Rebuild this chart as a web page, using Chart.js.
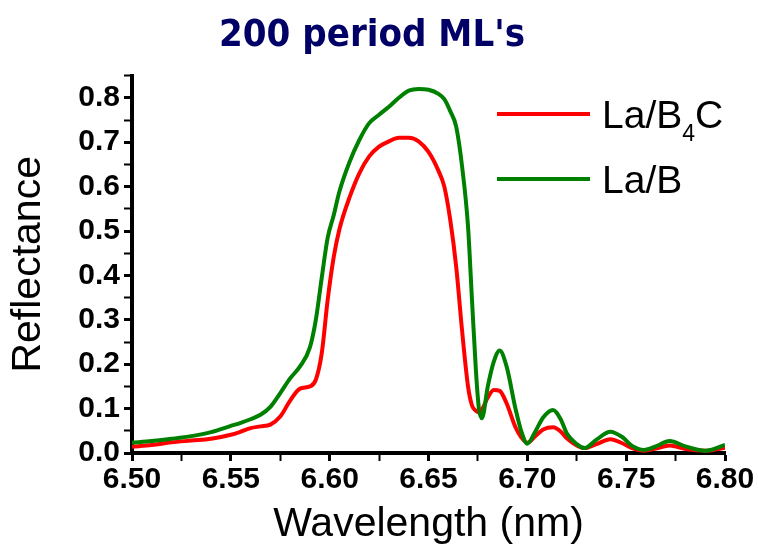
<!DOCTYPE html>
<html>
<head>
<meta charset="utf-8">
<script src="https://cdn.jsdelivr.net/npm/chart.js@4.4.1/dist/chart.umd.min.js"></script>
<style>
  html, body { margin: 0; padding: 0; background: #fff; }
</style>
</head>
<body>
<canvas id="chart" width="758" height="552"></canvas>
<script>
// wavelength grid (nm)
const wavelength = [
  6.500, 6.510, 6.520, 6.530, 6.540, 6.550, 6.555, 6.560, 6.565, 6.570,
  6.575, 6.580, 6.585, 6.590, 6.593, 6.596, 6.599, 6.602, 6.605, 6.610,
  6.615, 6.620, 6.625, 6.630, 6.635, 6.640, 6.645, 6.650, 6.655, 6.658,
  6.661, 6.664, 6.667, 6.670, 6.672, 6.674, 6.6755, 6.677, 6.680, 6.683,
  6.686, 6.6895, 6.694, 6.697, 6.700, 6.704, 6.708, 6.713, 6.717, 6.720,
  6.725, 6.729, 6.735, 6.742, 6.748, 6.753, 6.759, 6.765, 6.772, 6.780,
  6.790, 6.800
];
const laB4C = [
  0.014, 0.018, 0.024, 0.028, 0.032, 0.041, 0.048, 0.056, 0.060, 0.064,
  0.082, 0.118, 0.145, 0.150, 0.165, 0.225, 0.345, 0.440, 0.505, 0.575,
  0.630, 0.668, 0.690, 0.702, 0.710, 0.710, 0.702, 0.678, 0.636, 0.600,
  0.525, 0.420, 0.275, 0.150, 0.107, 0.095, 0.092, 0.098, 0.125, 0.142,
  0.140, 0.112, 0.058, 0.035, 0.023, 0.038, 0.053, 0.058, 0.048, 0.033,
  0.017, 0.011, 0.020, 0.031, 0.022, 0.011, 0.005, 0.010, 0.017, 0.009,
  0.005, 0.012
];
const laB = [
  0.023, 0.027, 0.032, 0.038, 0.047, 0.061, 0.068, 0.076, 0.086, 0.104,
  0.135, 0.168, 0.195, 0.238, 0.300, 0.395, 0.485, 0.535, 0.590, 0.655,
  0.705, 0.743, 0.762, 0.780, 0.800, 0.816, 0.820, 0.818, 0.809, 0.797,
  0.770, 0.735, 0.645, 0.510, 0.345, 0.185, 0.100, 0.078, 0.150, 0.205,
  0.231, 0.195, 0.100, 0.048, 0.021, 0.048, 0.080, 0.097, 0.075, 0.044,
  0.020, 0.011, 0.030, 0.048, 0.036, 0.016, 0.007, 0.015, 0.027, 0.015,
  0.005, 0.018
];
const seriesNames = ['La/B4C', 'La/B'];
const seriesColors = ['#ff0000', '#008000'];

const sansFont = "'Liberation Sans', Arial, sans-serif";

// legend drawn inside the plot, with a real subscript for B4C
const insideLegend = {
  id: 'insideLegend',
  afterDraw(chart) {
    const ctx = chart.ctx;
    ctx.save();
    const rows = [
      { y: 114, parts: [['La/B', 39, 0], ['4', 23, 13], ['C', 39, 0]] },
      { y: 179, parts: [['La/B', 39, 0]] }
    ];
    rows.forEach((row, i) => {
      ctx.strokeStyle = seriesColors[i];
      ctx.lineWidth = 4;
      ctx.beginPath();
      ctx.moveTo(497, row.y);
      ctx.lineTo(590, row.y);
      ctx.stroke();
      let x = 602;
      ctx.fillStyle = '#000';
      ctx.textBaseline = 'alphabetic';
      ctx.textAlign = 'left';
      row.parts.forEach(p => {
        ctx.font = p[1] + 'px ' + sansFont;
        ctx.fillText(p[0], x, row.y + 14 + p[2]);
        x += ctx.measureText(p[0]).width;
      });
    });
    ctx.restore();
  }
};

const ctx = document.getElementById('chart');
new Chart(ctx, {
  type: 'line',
  data: {
    datasets: [
      {
        label: seriesNames[0],
        data: wavelength.map((x, i) => ({ x: x, y: laB4C[i] })),
        borderColor: seriesColors[0],
        borderWidth: 4,
        pointRadius: 0,
        cubicInterpolationMode: 'monotone',
        order: 1
      },
      {
        label: seriesNames[1],
        data: wavelength.map((x, i) => ({ x: x, y: laB[i] })),
        borderColor: seriesColors[1],
        borderWidth: 4,
        pointRadius: 0,
        cubicInterpolationMode: 'monotone',
        order: 0
      }
    ]
  },
  options: {
    responsive: false,
    animation: false,
    layout: { padding: { top: 13, right: 14, bottom: 0, left: 0 } },
    plugins: {
      legend: { display: false },
      tooltip: { enabled: false },
      title: {
        display: true,
        text: "200 period ML's",
        color: '#000066',
        font: { family: "'DejaVu Sans Condensed', 'DejaVu Sans', sans-serif", size: 38, weight: 'bold' },
        padding: { top: 0, bottom: 17 }
      }
    },
    scales: {
      x: {
        type: 'linear',
        min: 6.5,
        max: 6.8,
        afterFit: (s) => { s.height = 99; s.paddingRight = 33; },
        ticks: {
          stepSize: 0.025,
          autoSkip: false,
          maxRotation: 0,
          padding: 1,
          color: '#000',
          font: { family: sansFont, size: 30, weight: 'bold' },
          callback: (v) => {
            const k = Math.round(v * 1000);
            return k % 50 === 0 ? (k / 1000).toFixed(2) : '';
          }
        },
        grid: {
          drawOnChartArea: false,
          tickLength: 8,
          tickColor: '#000',
          tickWidth: (c) => (Math.round(c.tick.value * 1000) % 50 === 0 ? 3 : 2)
        },
        border: { display: true, width: 4, color: '#000' },
        title: {
          display: true,
          text: 'Wavelength (nm)',
          color: '#000',
          font: { family: sansFont, size: 41 },
          padding: { top: 0, bottom: 3 }
        }
      },
      y: {
        min: 0,
        max: 0.85,
        afterFit: (s) => { s.width = 132; },
        ticks: {
          stepSize: 0.05,
          autoSkip: false,
          padding: 4,
          color: '#000',
          font: { family: sansFont, size: 30, weight: 'bold' },
          callback: (v) => {
            const k = Math.round(v * 100);
            return k % 10 === 0 ? (k / 100).toFixed(1) : '';
          }
        },
        grid: {
          drawOnChartArea: false,
          tickLength: 8,
          tickColor: '#000',
          tickWidth: (c) => (Math.round(c.tick.value * 100) % 10 === 0 ? 3 : 2)
        },
        border: { display: true, width: 4, color: '#000' },
        title: {
          display: true,
          text: 'Reflectance',
          color: '#000',
          font: { family: sansFont, size: 41 },
          padding: { top: 4, bottom: 0 }
        }
      }
    }
  },
  plugins: [insideLegend]
});
</script>
</body>
</html>
